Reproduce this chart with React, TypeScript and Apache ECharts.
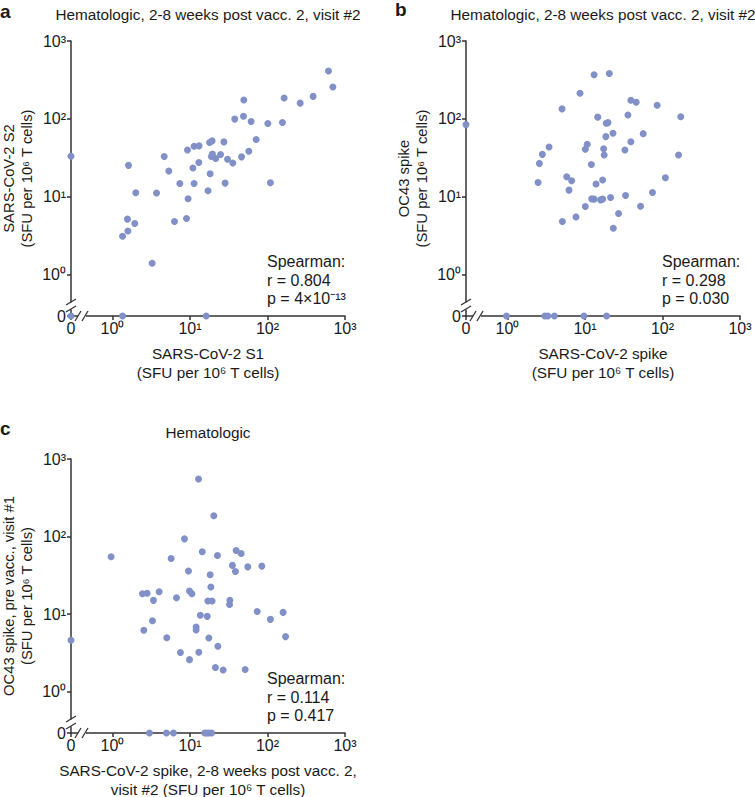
import React, { useEffect, useRef } from 'react';
import * as echarts from 'echarts';

// ---- data (SFU per 10^6 T cells; 0 = below detection, drawn on the broken "0" position) ----
const panelA: [number, number][] = [
  [0, 33], [0, 0], [1.35, 0], [16.2, 0],
  [612, 412], [697, 256], [388, 194], [264, 159], [164, 185], [156, 89.7], [101, 87.1],
  [49.5, 174], [49.0, 108], [37.8, 99.1], [61.5, 92.5], [71.4, 54.1], [57.4, 38.3],
  [46.3, 32.4], [35.7, 27.0], [30.5, 30.2], [27.4, 50.5], [24.8, 34.7], [21.5, 30.8],
  [19.5, 35.3], [18.9, 32.7], [19.3, 52.0], [17.9, 49.5], [18.2, 19.7], [17.1, 11.9],
  [28.4, 14.9], [109, 15.1], [13.1, 44.9], [11.3, 44.4], [9.29, 39.8], [13.0, 27.4],
  [10.9, 23.3], [11.3, 14.7], [7.4, 14.7], [9.46, 9.38], [9.02, 5.22], [6.31, 4.79],
  [4.65, 32.7], [5.33, 21.3], [3.7, 11.1], [3.25, 1.39], [2.0, 11.2], [1.61, 25.2],
  [1.56, 5.13], [1.94, 4.51], [1.58, 3.62], [1.35, 3.09],
];

const panelB: [number, number][] = [
  [0, 84.2], [0.97, 0], [3.03, 0], [3.31, 0], [4.03, 0], [9.7, 0], [19.0, 0],
  [20.6, 383], [13.1, 368], [8.63, 213], [5.06, 134], [39.1, 173], [45.8, 163], [85.3, 149],
  [172, 106], [35.8, 112], [14.6, 105], [18.8, 87.5], [19.8, 89.3], [23.0, 65.2], [18.6, 59.0],
  [56.4, 64.4], [39.1, 50.8], [10.7, 47.0], [10.1, 40.5], [17.4, 41.3], [17.7, 34.2],
  [32.7, 39.7], [3.44, 43.4], [2.82, 34.9], [2.58, 26.7], [2.48, 15.2], [12.1, 25.9],
  [161, 34.2], [109, 17.5], [5.81, 18.0], [6.73, 16.0], [6.22, 12.1], [13.9, 14.5],
  [16.9, 16.3], [12.2, 9.35], [13.1, 9.27], [15.9, 9.08], [16.9, 9.27], [21.4, 9.73],
  [33.4, 10.3], [74.3, 11.3], [10.1, 7.45], [52.1, 7.53], [27.1, 6.05], [7.66, 5.48],
  [5.11, 4.78], [23.2, 3.92],
];

const panelC: [number, number][] = [
  [0, 4.58], [3.0, 0], [4.97, 0], [6.12, 0], [15.5, 0], [16.5, 0], [17.5, 0], [19.0, 0],
  [12.9, 552], [20.3, 185], [8.49, 93.3], [0.96, 54.7], [5.71, 52.1], [14.4, 63.5],
  [22.6, 56.9], [39.4, 66.1], [45.7, 60.4], [35.3, 42.4], [38.6, 35.4], [55.7, 40.6],
  [84.5, 41.5], [9.57, 35.8], [18.2, 32.1], [18.6, 22.3], [2.44, 18.3], [2.8, 18.5],
  [4.0, 19.4], [3.38, 15.0], [6.7, 16.2], [9.86, 19.8], [10.6, 18.3], [17.0, 14.7],
  [19.3, 14.7], [32.7, 15.0], [32.4, 13.3], [13.6, 9.62], [16.7, 9.33], [73.6, 10.8],
  [159, 10.5], [109, 8.53], [171, 5.11], [3.28, 8.2], [2.54, 6.17], [12.0, 6.81],
  [12.0, 6.22], [5.02, 4.95], [17.5, 4.91], [22.9, 3.84], [7.53, 3.18], [13.0, 3.21],
  [9.86, 2.58], [21.3, 2.04], [26.8, 1.9], [51.5, 1.92],
];

const panelLetters = ['a', 'b', 'c'];
const panelTitles = [
  'Hematologic, 2-8 weeks post vacc. 2, visit #2',
  'Hematologic, 2-8 weeks post vacc. 2, visit #2',
  'Hematologic',
];
const xNames = [
  'SARS-CoV-2 S1\n(SFU per 10⁶ T cells)',
  'SARS-CoV-2 spike\n(SFU per 10⁶ T cells)',
  'SARS-CoV-2 spike, 2-8 weeks post vacc. 2,\nvisit #2 (SFU per 10⁶ T cells)',
];
const yNames = [
  'SARS-CoV-2 S2\n(SFU per 10⁶ T cells)',
  'OC43 spike\n(SFU per 10⁶ T cells)',
  'OC43 spike, pre vacc., visit #1\n(SFU per 10⁶ T cells)',
];
const statTexts = [
  'Spearman:\nr = 0.804\np = 4×10⁻¹³',
  'Spearman:\nr = 0.298\np = 0.030',
  'Spearman:\nr = 0.114\np = 0.417',
];

const ZERO_POS = -0.535; // position (in decades) where the "0" values sit
const TICK_VALUES = [ZERO_POS, 0, 1, 2, 3];
const SUP = ['⁰', '¹', '²', '³'];

const FONT = "'Liberation Sans', Arial, Helvetica, sans-serif";
const AXIS_COLOR = '#333333';
const TEXT_COLOR = '#1a1a1a';
const DOT_COLOR = '#8191c8';

const toPos = (v: number) => (v > 0 ? Math.log10(v) : ZERO_POS);

const grids = [
  { left: 71, top: 41, width: 274, height: 275 },
  { left: 466, top: 41, width: 274, height: 275 },
  { left: 71, top: 459, width: 274, height: 274 },
];

function makeAxis(gridIndex: number, isX: boolean) {
  return {
    type: 'value',
    gridIndex,
    min: ZERO_POS,
    max: 3,
    axisLine: { show: true, onZero: false, lineStyle: { color: AXIS_COLOR, width: 1.5 } },
    axisTick: {
      show: true,
      length: 4,
      inside: false,
      customValues: TICK_VALUES,
      lineStyle: { color: AXIS_COLOR, width: 1.5 },
    },
    axisLabel: {
      customValues: TICK_VALUES,
      formatter: (v: number) => (v < -0.1 ? '0' : '10' + SUP[Math.round(v)]),
      fontSize: 16,
      fontFamily: FONT,
      color: TEXT_COLOR,
      margin: isX ? 4 : 5,
      hideOverlap: false,
    },
    splitLine: { show: false },
    minorTick: { show: false },
  };
}

export default function App() {
  const ref = useRef<HTMLDivElement>(null);

  useEffect(() => {
    document.body.style.margin = '0';
    if (!ref.current) return;
    const chart = echarts.init(ref.current, undefined, { renderer: 'svg' });
    const panels = [panelA, panelB, panelC];

    const option: any = {
      animation: false,
      backgroundColor: '#ffffff',
      grid: grids.map((g) => ({ ...g, containLabel: false })),
      xAxis: grids.map((_, i) => makeAxis(i, true)),
      yAxis: grids.map((_, i) => makeAxis(i, false)),
      series: panels.map((p, i) => ({
        type: 'scatter',
        xAxisIndex: i,
        yAxisIndex: i,
        symbol: 'circle',
        symbolSize: 7,
        clip: false,
        itemStyle: { color: DOT_COLOR, opacity: 1 },
        z: 5,
        data: p.map(([x, y]) => [toPos(x), toPos(y)]),
      })),
    };
    chart.setOption(option);

    const graphics: any[] = [];
    const text = (x: number, y: number, t: string, opts: any = {}) => ({
      type: 'text',
      x,
      y,
      rotation: opts.rotation || 0,
      z: 20,
      style: {
        text: t,
        fontSize: opts.fontSize || 14,
        fontWeight: opts.fontWeight || 'normal',
        fontFamily: FONT,
        fill: TEXT_COLOR,
        lineHeight: opts.lineHeight || 18,
        textAlign: opts.align || 'center',
        align: opts.align || 'center',
        textVerticalAlign: opts.valign || 'middle',
        verticalAlign: opts.valign || 'middle',
      },
    });

    // panel letters
    graphics.push(text(0, 11, panelLetters[0], { fontSize: 19, fontWeight: 'bold', align: 'left' }));
    graphics.push(text(395, 9, panelLetters[1], { fontSize: 19, fontWeight: 'bold', align: 'left' }));
    graphics.push(text(0, 428, panelLetters[2], { fontSize: 19, fontWeight: 'bold', align: 'left' }));

    grids.forEach((g, i) => {
      const [x0, y0] = chart.convertToPixel({ gridIndex: i }, [ZERO_POS, ZERO_POS]) as number[];
      const [x3, y3] = chart.convertToPixel({ gridIndex: i }, [3, 3]) as number[];
      const cx = (x0 + x3) / 2;
      const cy = (y0 + y3) / 2;
      // title
      graphics.push(text(cx, y3 - 27, panelTitles[i], { fontSize: 15.3 }));
      // x name
      graphics.push(text(cx, y0 + 47, xNames[i], { fontSize: 15.3, lineHeight: 19 }));
      // y name (rotated)
      graphics.push(text(x0 - 53, cy, yNames[i], { fontSize: 14.8, lineHeight: 18.5, rotation: Math.PI / 2 }));
      // stats
      graphics.push(text(x0 + 196, y0 - 36, statTexts[i], { fontSize: 16, lineHeight: 18.5, align: 'left' }));

      // axis break marks on y axis
      const gy = y0 - 10;
      graphics.push({
        type: 'rect', z: 15,
        shape: { x: x0 - 3, y: gy - 3.5, width: 6, height: 7 },
        style: { fill: '#ffffff' },
      });
      graphics.push({
        type: 'line', z: 16,
        shape: { x1: x0 - 5, y1: gy - 1, x2: x0 + 5, y2: gy - 7 },
        style: { stroke: AXIS_COLOR, lineWidth: 1.3 },
      });
      graphics.push({
        type: 'line', z: 16,
        shape: { x1: x0 - 5, y1: gy + 6, x2: x0 + 5, y2: gy },
        style: { stroke: AXIS_COLOR, lineWidth: 1.3 },
      });
      // axis break marks on x axis
      const gx = x0 + 11;
      graphics.push({
        type: 'rect', z: 15,
        shape: { x: gx - 4, y: y0 - 3, width: 8, height: 6 },
        style: { fill: '#ffffff' },
      });
      graphics.push({
        type: 'line', z: 16,
        shape: { x1: gx - 7, y1: y0 + 5, x2: gx - 1, y2: y0 - 5 },
        style: { stroke: AXIS_COLOR, lineWidth: 1.3 },
      });
      graphics.push({
        type: 'line', z: 16,
        shape: { x1: gx, y1: y0 + 5, x2: gx + 6, y2: y0 - 5 },
        style: { stroke: AXIS_COLOR, lineWidth: 1.3 },
      });
    });

    chart.setOption({ graphic: graphics });

    return () => {
      chart.dispose();
    };
  }, []);

  return <div ref={ref} style={{ width: 755, height: 797 }} />;
}
